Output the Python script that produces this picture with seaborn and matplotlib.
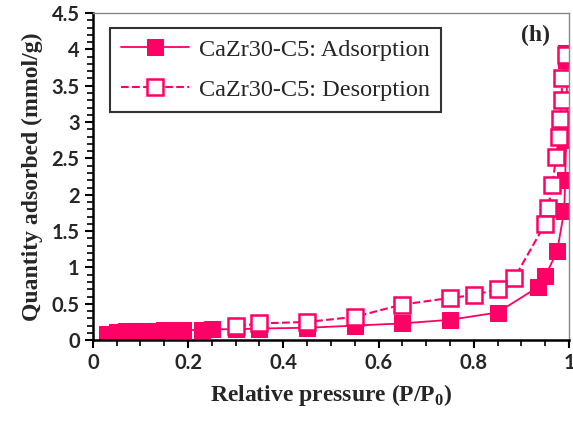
import matplotlib
matplotlib.use("Agg")
import matplotlib.pyplot as plt
import seaborn as sns
from matplotlib.ticker import MultipleLocator, FuncFormatter

# Adsorption branch (filled squares)
ads_p = [0.03, 0.05, 0.07, 0.09, 0.11, 0.13, 0.15, 0.17, 0.19, 0.23, 0.25, 0.30,
         0.35, 0.45, 0.55, 0.65, 0.75, 0.85, 0.935, 0.95, 0.975, 0.99, 0.992,
         0.994, 0.995, 0.996, 0.994, 0.993]
ads_q = [0.09, 0.11, 0.12, 0.12, 0.13, 0.13, 0.14, 0.14, 0.14, 0.14, 0.15, 0.15,
         0.16, 0.17, 0.20, 0.23, 0.28, 0.38, 0.73, 0.88, 1.22, 1.78, 2.20,
         2.75, 2.95, 3.30, 3.85, 3.95]

# Desorption branch (open squares)
des_p = [0.993, 0.985, 0.985, 0.981, 0.979, 0.973, 0.965, 0.956, 0.95, 0.885,
         0.85, 0.80, 0.75, 0.65, 0.55, 0.45, 0.35, 0.30]
des_q = [3.92, 3.60, 3.31, 3.04, 2.79, 2.52, 2.13, 1.82, 1.60, 0.85,
         0.70, 0.62, 0.58, 0.49, 0.32, 0.25, 0.23, 0.19]

color = '#FF0066'

sns.set_style("white")
plt.rcParams['mathtext.fontset'] = 'custom'
plt.rcParams['mathtext.bf'] = 'Liberation Serif:bold'
plt.rcParams['mathtext.rm'] = 'Liberation Serif'

fig, ax = plt.subplots(figsize=(5.73, 4.22), dpi=100)
fig.subplots_adjust(left=0.162, right=0.993, bottom=0.194, top=0.969)

sns.lineplot(x=ads_p, y=ads_q, ax=ax, sort=False, estimator=None, color=color,
             lw=1.3, marker='s', markersize=12, markerfacecolor=color,
             markeredgecolor=color, label='CaZr30-C5: Adsorption')
sns.lineplot(x=des_p, y=des_q, ax=ax, sort=False, estimator=None, color=color,
             lw=1.5, linestyle='--', marker='s', markersize=11,
             markerfacecolor='white', markeredgecolor=color, markeredgewidth=1.8,
             label='CaZr30-C5: Desorption')

ax.set_xlim(0, 1)
ax.set_ylim(0, 4.5)
ax.xaxis.set_major_locator(MultipleLocator(0.2))
ax.xaxis.set_minor_locator(MultipleLocator(0.05))
ax.yaxis.set_major_locator(MultipleLocator(0.5))
ax.yaxis.set_minor_locator(MultipleLocator(0.1))
ax.xaxis.set_major_formatter(FuncFormatter(lambda v, p: f'{v:g}'))
ax.yaxis.set_major_formatter(FuncFormatter(lambda v, p: f'{v:g}'))

ax.tick_params(which='both', direction='out', color='black')
ax.tick_params(which='major', length=6, width=1.5, labelsize=14.5)
ax.tick_params(which='minor', length=4, width=1.2)
ax.tick_params(axis='x', which='both', bottom=True)
ax.tick_params(axis='y', which='both', left=True)
for lab in ax.get_xticklabels() + ax.get_yticklabels():
    lab.set_fontfamily('Lato')
    lab.set_fontweight('bold')

for side in ['left', 'bottom']:
    ax.spines[side].set_linewidth(1.8)
    ax.spines[side].set_color('black')
for side in ['top', 'right']:
    ax.spines[side].set_linewidth(1.0)
    ax.spines[side].set_color('#888888')

ax.set_xlabel('Relative pressure (P/P$_\\mathbf{0}$)', fontfamily='Liberation Serif',
              fontweight='bold', fontsize=17, labelpad=6)
ax.set_ylabel('Quantity adsorbed (mmol/g)', fontfamily='Liberation Serif',
              fontweight='bold', fontsize=17, labelpad=6)

leg = ax.legend(loc='upper left', bbox_to_anchor=(0.036, 0.955), borderaxespad=0,
                frameon=True, prop={'family': 'Liberation Serif', 'size': 17.5},
                fancybox=False, edgecolor='black', handlelength=2.8, borderpad=0.45,
                labelspacing=0.75, handletextpad=0.4)
leg.get_frame().set_linewidth(1.5)

ax.text(0.96, 0.965, '(h)', transform=ax.transAxes, ha='right', va='top',
        fontfamily='Liberation Serif', fontweight='bold', fontsize=17)

fig.savefig('out.png', dpi=100)
